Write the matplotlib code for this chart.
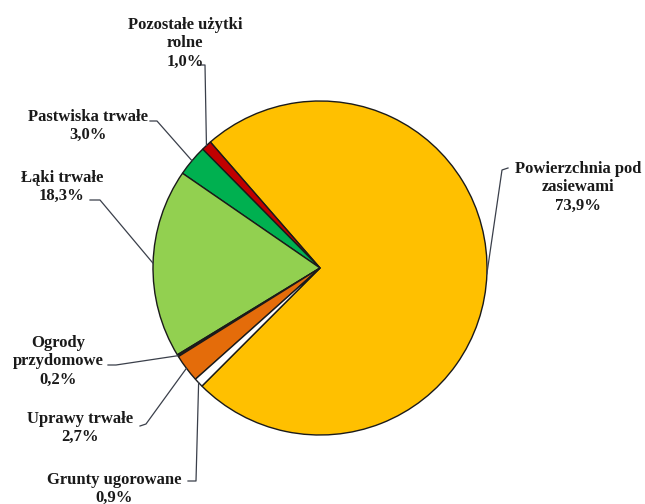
import numpy as np
import matplotlib.pyplot as plt

# land use shares (%)
labels = ["Powierzchnia pod\nzasiewami", "Pozostałe użytki\nrolne", "Pastwiska trwałe",
          "Łąki trwałe", "Ogrody\nprzydomowe", "Uprawy trwałe", "Grunty ugorowane"]
values = [73.9, 1.0, 3.0, 18.3, 0.2, 2.7, 0.9]
colors = ["#FFC000", "#C00000", "#00B050", "#92D050", "#202020", "#E46C0A", "#FFFFFF"]

# label text centres and leader-line hooks, in pixels from the top-left
text_pos = [(578, 187), (185, 43), (88, 126), (62, 187), (58, 361), (80, 428), (114, 489)]
hooks = [[(508, 168), (502, 170)], [(198, 65), (205, 65)], [(150, 121), (157, 121)],
         [(90, 200), (100, 200)], [(108, 365), (116, 365)], [(140, 426), (146, 424)],
         [(188, 481), (196, 481)]]

W, H = 645, 504
cx, cy, r = 320, 268, 167

fig = plt.figure(figsize=(6.45, 5.04), dpi=100)
ax = fig.add_axes([0, 0, 1, 1])

wedges, _ = ax.pie(values, colors=colors, startangle=-135, counterclock=True,
                   center=(cx, H - cy), radius=r,
                   wedgeprops=dict(edgecolor="#1a1a1a", linewidth=1.0))
ax.set_xlim(0, W)
ax.set_ylim(0, H)
ax.axis("off")

for w, lab, v, (tx, ty), hk in zip(wedges, labels, values, text_pos, hooks):
    ang = np.deg2rad((w.theta1 + w.theta2) / 2)
    px = cx + r * np.cos(ang)
    py = (H - cy) + r * np.sin(ang)
    xs = [hk[0][0], hk[1][0], px]
    ys = [H - hk[0][1], H - hk[1][1], py]
    ax.plot(xs, ys, color="#3a3f4a", lw=0.9)
    txt = lab + "\n" + f"{v:.1f}".replace(".", ",") + "%"
    ax.text(tx, H - ty, txt, ha="center", va="center", multialignment="center",
            fontsize=12, fontweight="bold", family="Liberation Serif",
            color="#1a1a1a", linespacing=1.2)

fig.savefig("out.png", dpi=100)
